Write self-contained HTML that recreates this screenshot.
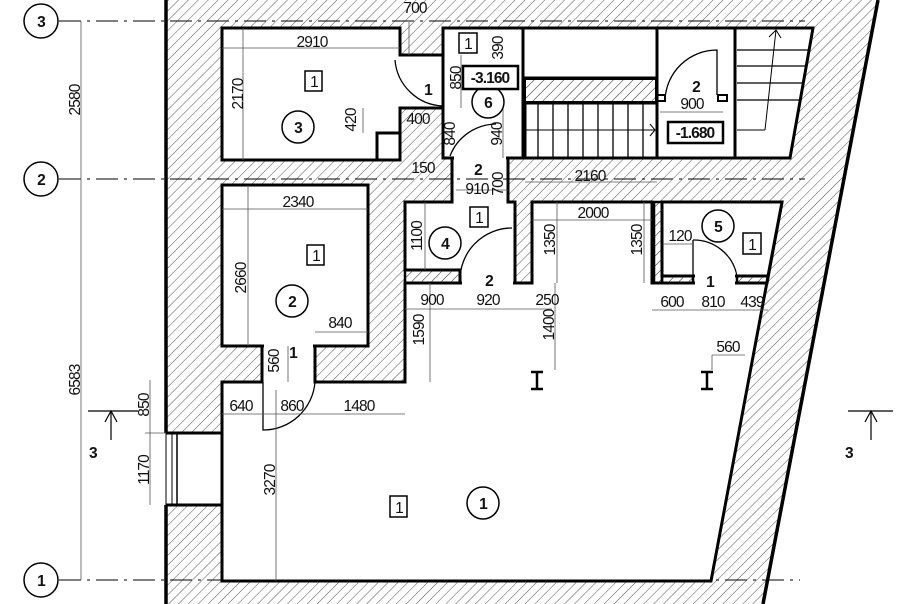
<!DOCTYPE html>
<html><head><meta charset="utf-8"><style>
html,body{margin:0;padding:0;background:#fff;}
svg{display:block;}
text{font-family:"Liberation Sans",sans-serif;font-size:15.5px;fill:#111;letter-spacing:-0.9px;}
.b{font-weight:bold;}
</style></head><body>
<svg width="900" height="604" viewBox="0 0 900 604" xmlns="http://www.w3.org/2000/svg">
<defs>
<pattern id="h" width="7" height="7" patternUnits="userSpaceOnUse" patternTransform="rotate(45)">
<line x1="0" y1="0" x2="0" y2="7" stroke="#555" stroke-width="1"/>
</pattern>
</defs>
<polygon points="166,0 878,0 763,604 166,604" fill="url(#h)"/>
<line x1="166" y1="0" x2="166" y2="604" stroke="#000" stroke-width="3.5"/>
<line x1="878" y1="0" x2="763" y2="604" stroke="#000" stroke-width="3.5"/>
<rect x="164" y="433" width="58" height="72" fill="#fff"/>
<line x1="166" y1="433" x2="166" y2="505" stroke="#000" stroke-width="1"/>
<line x1="172" y1="433" x2="172" y2="505" stroke="#000" stroke-width="1"/>
<line x1="177" y1="433" x2="177" y2="505" stroke="#000" stroke-width="1.5"/>
<line x1="166" y1="433" x2="222" y2="433" stroke="#000" stroke-width="3"/>
<line x1="166" y1="505" x2="222" y2="505" stroke="#000" stroke-width="3"/>

<g fill="#fff" stroke="#000" stroke-width="3" stroke-linejoin="miter">
<polygon points="222,28 400,28 400,55 443,55 443,108 400,108 400,160 222,160"/>
<rect x="377" y="133" width="23" height="27"/>
<rect x="443" y="28" width="80" height="130"/>
<polygon points="452,158 508,158 508,202 515,202 515,283 460,283 460,270 405,270 405,202 452,202"/>
<rect x="222" y="185" width="146" height="161"/>
<polygon points="222,581 222,382 262,382 262,346 315,346 315,382 405,382 405,283 532,283 532,202 652,202 652,283 767,283 782,202 711,581"/>
<polygon points="662,202 782,202 768,276 662,276"/>
<rect x="523" y="28" width="134" height="50"/>
<rect x="525" y="103" width="132" height="55"/>
<polygon points="657,28 735,28 735,158 657,158"/>
<polygon points="735,28 813,28 790,158 735,158"/>
</g>
<rect x="525" y="79" width="131" height="23" fill="url(#h)" stroke="#000" stroke-width="2"/>
<g fill="#fff">
<rect x="454" y="155" width="52" height="50"/>
<rect x="462" y="266" width="51" height="20"/>
<rect x="264" y="343" width="49" height="42"/>
<rect x="695" y="272" width="40" height="14"/>
</g>
<rect x="662" y="276" width="31" height="7" fill="url(#h)" stroke="#000" stroke-width="2.5"/>
<polygon points="737,276 768,276 767,283 737,283" fill="url(#h)" stroke="#000" stroke-width="2.5"/>
<rect x="654" y="202" width="8" height="81" fill="url(#h)" stroke="#000" stroke-width="2.5"/>
<rect x="405" y="270" width="55" height="13" fill="url(#h)" stroke="#000" stroke-width="2.5"/>

<g stroke="#000" stroke-width="1.3">
<line x1="538" y1="103" x2="538" y2="158"/><line x1="553" y1="103" x2="553" y2="158"/>
<line x1="568" y1="103" x2="568" y2="158"/><line x1="583" y1="103" x2="583" y2="158"/>
<line x1="598" y1="103" x2="598" y2="158"/><line x1="613" y1="103" x2="613" y2="158"/>
<line x1="628" y1="103" x2="628" y2="158"/><line x1="643" y1="103" x2="643" y2="158"/>
<line x1="525" y1="130" x2="655" y2="130" stroke-width="1"/>
<polyline points="650,124 655,130 650,136" fill="none" stroke-width="1"/>
<line x1="737" y1="50" x2="809" y2="50"/><line x1="737" y1="66" x2="806" y2="66"/>
<line x1="737" y1="83" x2="803" y2="83"/><line x1="737" y1="100" x2="800" y2="100"/>
<line x1="737" y1="130" x2="765" y2="130" stroke-width="1"/>
<line x1="765" y1="130" x2="776" y2="30" stroke-width="1"/>
<polyline points="769,37 776,30 781,38" fill="none" stroke-width="1"/>
</g>
<g fill="none" stroke="#000" stroke-width="1.3">
<rect x="657" y="95" width="8" height="6" stroke-width="2"/>
<rect x="718" y="95" width="9" height="6" stroke-width="2"/>
<path d="M665,100 A52,52 0 0 1 717,50 L717,95"/>
<path d="M443,106 A50,50 0 0 1 395,60"/>
<path d="M450,156 A50,50 0 0 1 496,124"/>
<path d="M460,281 A52,52 0 0 1 512,228"/>
<path d="M315,382 A52,52 0 0 1 263,430 L263,382"/>
<path d="M693,240 A44,44 0 0 1 737,276"/>
<line x1="693" y1="240" x2="693" y2="276"/>
</g>

<g stroke="#000" stroke-width="1" stroke-dasharray="22,6,3,6" fill="none">
<line x1="59" y1="21" x2="805" y2="21"/>
<line x1="59" y1="179" x2="805" y2="179"/>
<line x1="59" y1="580" x2="800" y2="580"/>
</g>
<g fill="#fff" stroke="#000" stroke-width="1.5">
<circle cx="41" cy="21" r="17"/><circle cx="41" cy="179" r="17"/><circle cx="41" cy="580" r="17"/>
</g>
<text x="41" y="27" text-anchor="middle" class="b">3</text>
<text x="41" y="185" text-anchor="middle" class="b">2</text>
<text x="41" y="586" text-anchor="middle" class="b">1</text>

<g stroke="#555" stroke-width="0.8" fill="none">
<line x1="81" y1="21" x2="81" y2="580"/>
<line x1="150" y1="380" x2="150" y2="505"/>
<line x1="145" y1="433" x2="166" y2="433"/>
<line x1="222" y1="48" x2="400" y2="48"/>
<line x1="243" y1="28" x2="243" y2="160"/>
<line x1="222" y1="209" x2="368" y2="209"/>
<line x1="248" y1="185" x2="248" y2="346"/>
<line x1="315" y1="332" x2="368" y2="332"/>
<line x1="222" y1="414" x2="405" y2="414"/>
<line x1="276" y1="390" x2="276" y2="581"/>
<line x1="425" y1="202" x2="425" y2="270"/>
<line x1="405" y1="309" x2="515" y2="309"/>
<line x1="430" y1="283" x2="430" y2="382"/>
<line x1="515" y1="309" x2="552" y2="309"/>
<line x1="555" y1="283" x2="555" y2="370"/>
<line x1="532" y1="220" x2="652" y2="220"/>
<line x1="557" y1="202" x2="557" y2="283"/>
<line x1="644" y1="202" x2="644" y2="283"/>
<line x1="652" y1="310" x2="768" y2="310"/>
<line x1="663" y1="244" x2="693" y2="244"/>
<line x1="712" y1="355" x2="745" y2="355"/>
<line x1="712" y1="355" x2="712" y2="370"/>
<line x1="525" y1="182" x2="657" y2="182"/>
<line x1="660" y1="112" x2="723" y2="112"/>
<line x1="363" y1="108" x2="363" y2="133"/>
<line x1="409" y1="22" x2="409" y2="55"/>
<line x1="461" y1="55" x2="461" y2="108"/>
<line x1="503" y1="102" x2="503" y2="158"/>
<line x1="456" y1="190" x2="508" y2="190"/>
<line x1="288" y1="346" x2="288" y2="382"/>
</g>
<g stroke="#000" stroke-width="1.2" fill="none">
<line x1="88" y1="411" x2="138" y2="411"/><line x1="111" y1="411" x2="111" y2="440"/>
<polyline points="105,422 111,411 117,422"/>
<line x1="848" y1="411" x2="893" y2="411"/><line x1="871" y1="411" x2="871" y2="440"/>
<polyline points="865,422 871,411 877,422"/>
</g>
<text x="89" y="458" class="b" font-size="18">3</text>
<text x="845" y="458" class="b" font-size="18">3</text>

<g stroke="#000" stroke-width="2.5">
<line x1="531" y1="372" x2="543" y2="372"/><line x1="531" y1="389" x2="543" y2="389"/><line x1="537" y1="372" x2="537" y2="389"/>
<line x1="701" y1="372" x2="713" y2="372"/><line x1="701" y1="389" x2="713" y2="389"/><line x1="707" y1="372" x2="707" y2="389"/>
</g>

<g fill="#fff" stroke="#000" stroke-width="1.5">
<rect x="305" y="71" width="17" height="20"/>
<rect x="459" y="33" width="18" height="20"/>
<rect x="307" y="245" width="17" height="20"/>
<rect x="470" y="207" width="18" height="20"/>
<rect x="743" y="233" width="18" height="21"/>
<rect x="390" y="496" width="17" height="21"/>
<circle cx="298" cy="127" r="16"/>
<circle cx="488" cy="102" r="16"/>
<circle cx="292" cy="301" r="16"/>
<circle cx="445" cy="243" r="16"/>
<circle cx="718" cy="226" r="16"/>
<circle cx="483" cy="503" r="16"/>
</g>
<g fill="#fff" stroke="#000" stroke-width="2.5">
<rect x="463" y="66" width="55" height="23"/>
<rect x="668" y="122" width="55" height="21"/>
</g>

<g text-anchor="middle">
<text x="314" y="87" font-size="17">1</text><text x="468" y="49" font-size="17">1</text><text x="316" y="261" font-size="17">1</text>
<text x="479" y="223" font-size="17">1</text><text x="752" y="250" font-size="17">1</text><text x="399" y="513" font-size="17">1</text>
<text x="298" y="133" class="b" font-size="16">3</text>
<text x="488" y="108" class="b" font-size="16">6</text>
<text x="292" y="307" class="b" font-size="16">2</text>
<text x="445" y="249" class="b" font-size="16">4</text>
<text x="718" y="232" class="b" font-size="16">5</text>
<text x="483" y="509" class="b" font-size="16">1</text>
<text x="490" y="83" class="b" font-size="14">-3.160</text>
<text x="695" y="138" class="b" font-size="14">-1.680</text>
<text x="415" y="13">700</text>
<text x="312" y="47">2910</text>
<text x="428" y="95" class="b" font-size="18">1</text>
<text x="418" y="124">400</text>
<text x="423" y="173">150</text>
<text x="478" y="175" class="b" font-size="18">2</text>
<text x="477" y="194">910</text>
<text x="590" y="181">2160</text>
<text x="696" y="92" class="b" font-size="18">2</text>
<text x="692" y="109">900</text>
<text x="298" y="207">2340</text>
<text x="340" y="328">840</text>
<text x="293" y="358" class="b" font-size="18">1</text>
<text x="489" y="286" class="b" font-size="18">2</text>
<text x="432" y="305">900</text>
<text x="488" y="305">920</text>
<text x="547" y="305">250</text>
<text x="593" y="218">2000</text>
<text x="680" y="241">120</text>
<text x="710" y="287" class="b" font-size="18">1</text>
<text x="672" y="307">600</text>
<text x="713" y="307">810</text>
<text x="752" y="307">439</text>
<text x="728" y="352">560</text>
<text x="241" y="411">640</text>
<text x="292" y="411">860</text>
<text x="359" y="411">1480</text>
</g>
<g text-anchor="middle">
<text transform="translate(80,100) rotate(-90)">2580</text>
<text transform="translate(80,380) rotate(-90)">6583</text>
<text transform="translate(149,405) rotate(-90)">850</text>
<text transform="translate(149,470) rotate(-90)">1170</text>
<text transform="translate(243,94) rotate(-90)">2170</text>
<text transform="translate(246,278) rotate(-90)">2660</text>
<text transform="translate(275,480) rotate(-90)">3270</text>
<text transform="translate(356,120) rotate(-90)">420</text>
<text transform="translate(461,78) rotate(-90)">850</text>
<text transform="translate(455,134) rotate(-90)">840</text>
<text transform="translate(502,134) rotate(-90)">940</text>
<text transform="translate(503,48) rotate(-90)">390</text>
<text transform="translate(503,184) rotate(-90)">700</text>
<text transform="translate(279,361) rotate(-90)">560</text>
<text transform="translate(422,236) rotate(-90)">1100</text>
<text transform="translate(424,330) rotate(-90)">1590</text>
<text transform="translate(555,240) rotate(-90)">1350</text>
<text transform="translate(554,325) rotate(-90)">1400</text>
<text transform="translate(642,240) rotate(-90)">1350</text>
</g>
</svg>
</body></html>
